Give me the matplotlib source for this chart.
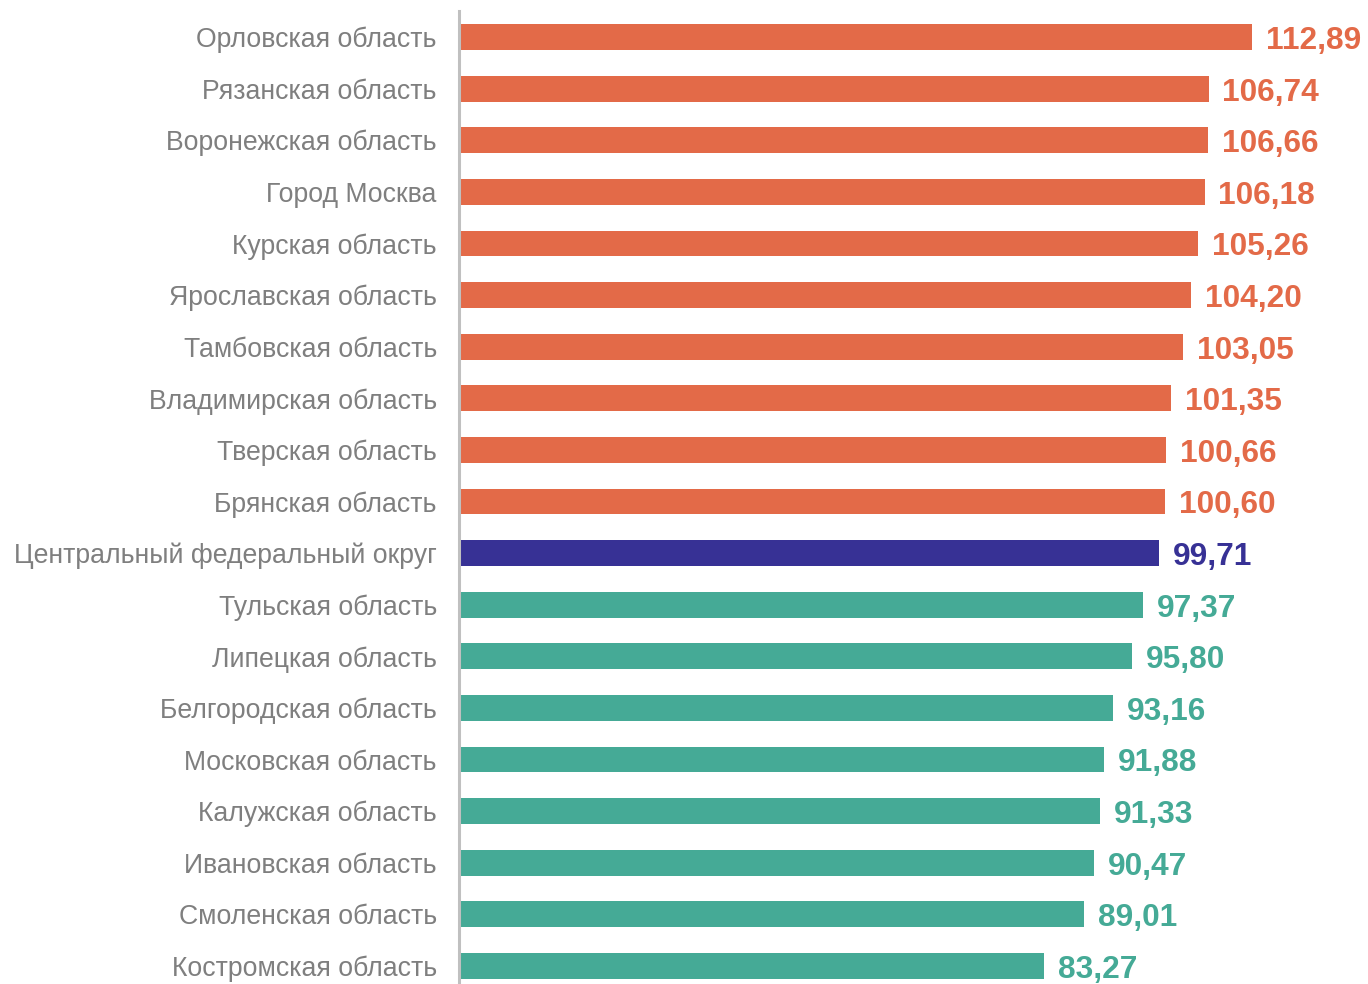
import matplotlib.pyplot as plt

regions = ["Орловская область", "Рязанская область", "Воронежская область", "Город Москва",
           "Курская область", "Ярославская область", "Тамбовская область", "Владимирская область",
           "Тверская область", "Брянская область", "Центральный федеральный округ",
           "Тульская область", "Липецкая область", "Белгородская область", "Московская область",
           "Калужская область", "Ивановская область", "Смоленская область", "Костромская область"]
values = [112.89, 106.74, 106.66, 106.18, 105.26, 104.20, 103.05, 101.35, 100.66, 100.60,
          99.71, 97.37, 95.80, 93.16, 91.88, 91.33, 90.47, 89.01, 83.27]

orange = "#E36A48"
navy = "#373195"
teal = "#45AA96"
colors = [navy if v == 99.71 else (orange if v > 99.71 else teal) for v in values]

plt.rcParams['font.family'] = ['Liberation Sans', 'DejaVu Sans']

W, H = 1368, 984
fig = plt.figure(figsize=(W / 100, H / 100), dpi=100)
ax = fig.add_axes([459 / W, (984 - 991.8) / H, (W - 459) / W, 980.6 / H])

y = range(len(values))
ax.barh(y, values, height=0.5, color=colors, zorder=2)
ax.set_ylim(len(values) - 0.5, -0.5)
ax.set_xlim(0, (W - 459) / 7.022)

for yi, v, c in zip(y, values, colors):
    ax.annotate(f"{v:.2f}".replace(".", ","), (v, yi), xytext=(10, -2.8), textcoords="offset points",
                ha="left", va="center", fontsize=22.8, fontweight="bold", color=c)

ax.set_yticks(list(y))
ax.set_yticklabels(regions, fontsize=19.2, color="#7F7F7F")
ax.tick_params(axis="y", length=0, pad=16)
ax.set_xticks([])
for s in ["top", "right", "bottom"]:
    ax.spines[s].set_visible(False)
ax.spines["left"].set_color("#C0C0C0")
ax.spines["left"].set_linewidth(2.2)
ax.spines["left"].set_zorder(3)

fig.savefig("out.png", dpi=100)
